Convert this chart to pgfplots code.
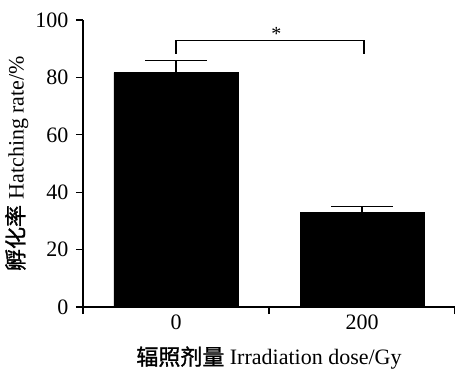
\documentclass[border=0pt]{standalone}
\usepackage{pgfplots}
\pgfplotsset{compat=1.18}
\usepackage{fontspec}
\setmainfont{Liberation Serif}
\newfontfamily\cjk[FakeBold=1.2]{Noto Sans CJK SC}
\begin{document}
\fontsize{22bp}{26bp}\selectfont
\begin{tikzpicture}
\begin{axis}[
  name=ax,
  scale only axis, width=372bp, height=287bp,
  xmin=-0.5, xmax=1.5, ymin=0, ymax=100,
  axis x line=bottom, axis y line=left,
  axis line style={-, line width=1.3bp},
  every tick/.style={black, line width=1.3bp},
  tick align=outside, major tick length=7bp,
  xtick={-0.5,0.5,1.5}, xticklabels={},
  extra x ticks={0,1}, extra x tick labels={0,200},
  extra x tick style={major tick length=0pt, tick style={draw=none}},
  ytick={0,20,40,60,80,100},
  /pgf/number format/assume math mode=true,
  tick label style={font=\fontsize{22bp}{26bp}\selectfont},
  label style={font=\fontsize{22bp}{26bp}\selectfont},
  xlabel={{\cjk 辐照剂量} Irradiation dose/Gy},
  ylabel={{\cjk 孵化率} Hatching rate/\%},
  every axis x label/.style={at={(rel axis cs:0.5,-0.202)}, anchor=base},
  every axis y label/.style={at={(rel axis cs:-0.178,0.5)}, rotate=90, anchor=center},
  clip=false,
]
\addplot[ybar, fill=black, draw=black, bar width=124bp,
  error bars/.cd, y dir=plus, y explicit,
  error bar style={line width=1.3bp, black},
  error mark options={rotate=90, mark size=31bp, line width=1.3bp, black}]
  coordinates {(0,81.7) +- (0,4.1) (1,33.1) +- (0,1.8)};
\addplot[black, line width=1.3bp, mark=none] coordinates {(0,88.2) (0,92.8) (1.01,92.8) (1.01,88.2)};
\node[font=\fontsize{20bp}{24bp}\selectfont] at (axis cs:0.54,95.0) {*};
\end{axis}
\pgfresetboundingbox
\path ([xshift=-83bp,yshift=-64bp]ax.south west) rectangle ([yshift=20bp]ax.north east);
\end{tikzpicture}
\end{document}
